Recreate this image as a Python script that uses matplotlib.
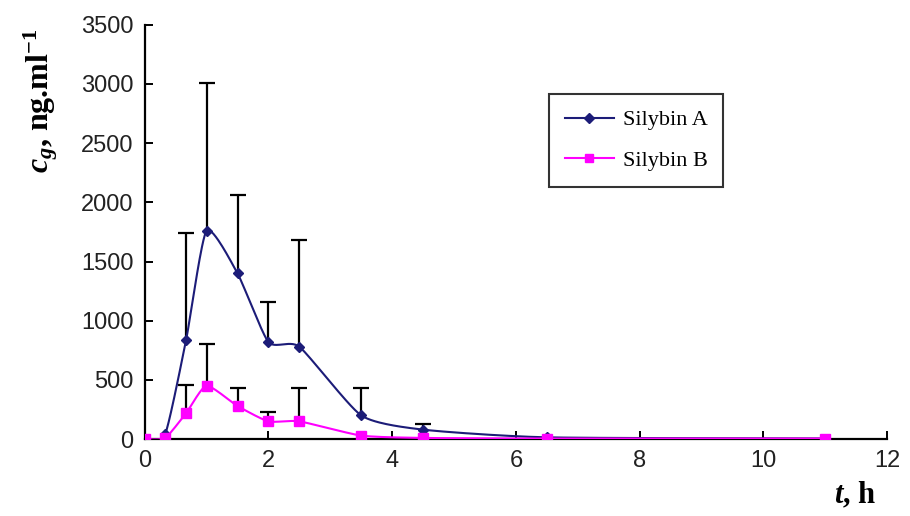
import numpy as np
import matplotlib
matplotlib.use("Agg")
import matplotlib.pyplot as plt

plt.rcParams["mathtext.fontset"] = "custom"
plt.rcParams["mathtext.rm"] = "Liberation Serif:bold"
plt.rcParams["mathtext.bf"] = "Liberation Serif:bold"
plt.rcParams["mathtext.it"] = "Liberation Serif:italic:bold"

# sampling times (h) and mean plasma concentrations (ng/ml)
t = [0, 0.33, 0.67, 1.0, 1.5, 2.0, 2.5, 3.5, 4.5, 6.5, 11]
silybin_a = [0, 40, 840, 1760, 1400, 820, 780, 200, 80, 15, 5]
silybin_b = [0, 10, 220, 450, 280, 150, 150, 30, 10, 5, 5]
# upper SD
sd_a = [0, 0, 900, 1250, 660, 340, 900, 230, 50, 0, 0]
sd_b = [0, 0, 240, 350, 150, 80, 280, 0, 0, 0, 0]


def smooth(x, y, n=30):
    # excel-style smoothed line (Catmull-Rom through the points)
    x = np.asarray(x, float)
    y = np.asarray(y, float)
    px = np.concatenate([[x[0]], x, [x[-1]]])
    py = np.concatenate([[y[0]], y, [y[-1]]])
    xs, ys = [], []
    for i in range(1, len(px) - 2):
        s = np.linspace(0, 1, n)
        p0, p1, p2, p3 = (np.array([px[i + k], py[i + k]]) for k in (-1, 0, 1, 2))
        m1 = (p2 - p0) / 2 * 0.6
        m2 = (p3 - p1) / 2 * 0.6
        h00 = 2 * s**3 - 3 * s**2 + 1
        h10 = s**3 - 2 * s**2 + s
        h01 = -2 * s**3 + 3 * s**2
        h11 = s**3 - s**2
        pts = np.outer(h00, p1) + np.outer(h10, m1) + np.outer(h01, p2) + np.outer(h11, m2)
        xs.append(pts[:, 0])
        ys.append(pts[:, 1])
    return np.concatenate(xs), np.concatenate(ys)


fig = plt.figure(figsize=(9.1, 5.16), dpi=100)
ax = fig.add_axes([0.159, 0.149, 0.816, 0.803])

navy = "#1c1c78"
magenta = "#ff00ff"

# error bars (upper only)
for vals, sd in ((silybin_a, sd_a), (silybin_b, sd_b)):
    ti = [x for x, s in zip(t, sd) if s > 0]
    vi = [v for v, s in zip(vals, sd) if s > 0]
    si = [s for s in sd if s > 0]
    eb = ax.errorbar(ti, vi, yerr=[np.zeros(len(si)), si], fmt="none",
                     ecolor="black", elinewidth=1.6, capsize=6, capthick=1.6, zorder=1)
    eb[1][0].set_visible(False)

xa, ya = smooth(t, silybin_a)
ax.plot(xa, ya, color=navy, lw=1.5, zorder=2)
ax.plot(t, silybin_a, ls="none", marker="D", ms=5.5, color=navy, zorder=3)
xb, yb = smooth(t, silybin_b)
ax.plot(xb, yb, color=magenta, lw=1.5, zorder=4)
ax.plot(t, silybin_b, ls="none", marker="s", ms=6.5, color=magenta, zorder=5)

# legend handles
ax.plot([], [], color=navy, marker="D", ms=5, lw=1.5, label="Silybin A")
ax.plot([], [], color=magenta, marker="s", ms=6, lw=1.5, label="Silybin B")
leg = ax.legend(loc="upper left", bbox_to_anchor=(0.53, 0.859), frameon=True,
                fancybox=False, edgecolor="black", handlelength=2.2,
                prop={"family": "Liberation Serif", "size": 16}, borderpad=0.7,
                labelspacing=0.9, handletextpad=0.4)
leg.get_frame().set_linewidth(1.5)

ax.set_xlim(0, 12)
ax.set_ylim(0, 3500)
ax.set_xticks(range(0, 13, 2))
ax.set_yticks(range(0, 3501, 500))
for sp in ("top", "right"):
    ax.spines[sp].set_visible(False)
for sp in ("left", "bottom"):
    ax.spines[sp].set_linewidth(1.6)
ax.tick_params(direction="in", length=6, width=1.4, labelsize=17, pad=8)
for lab in ax.get_xticklabels() + ax.get_yticklabels():
    lab.set_family("Liberation Sans")
    lab.set_color("#222222")

fig.text(0.045, 0.805, r"$c_g$, ng.ml$^{-1}$", rotation=90,
         ha="center", va="center", fontsize=23, fontweight="bold",
         family="Liberation Serif")
fig.text(0.94, 0.04, r"$t$, h", ha="center", va="center", fontsize=22,
         fontweight="bold", family="Liberation Serif")

fig.savefig("out.png", dpi=100)
